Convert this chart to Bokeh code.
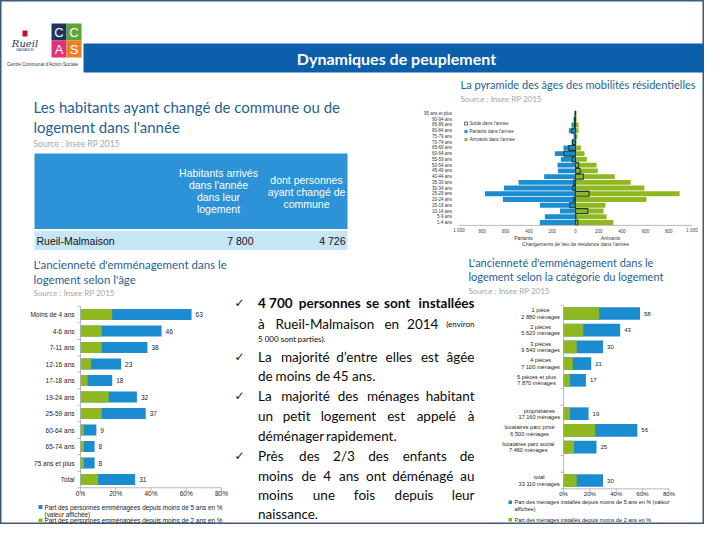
from bokeh.plotting import figure
from bokeh.models import Range1d
from bokeh.core.properties import value
from bokeh.embed import file_html
from bokeh.resources import INLINE

# ---------------- data ----------------
pyr_ages = ["95 ans et plus", "90-94 ans", "85-89 ans", "80-84 ans", "75-79 ans", "70-74 ans",
            "65-69 ans", "60-64 ans", "55-59 ans", "50-54 ans", "45-49 ans", "40-44 ans",
            "35-39 ans", "30-34 ans", "25-29 ans", "20-24 ans", "15-19 ans", "10-14 ans",
            "5-9 ans", "1-4 ans"]
pyr_partants = [10, 17, 34, 57, 17, 34, 103, 177, 126, 154, 151, 269, 489, 614, 777, 623, 306, 134, 263, 306]
pyr_arrivants = [9, 9, 26, 26, 17, 9, 46, 77, 97, 180, 191, 337, 474, 591, 894, 609, 257, 240, 266, 326]
pyr_solde = [-1, -8, -8, -31, 0, -25, -57, -100, -29, 26, 40, 68, -15, -23, 117, -14, -49, 106, 3, 20]
pyr_ticks = [-1000, -800, -600, -400, -200, 0, 200, 400, 600, 800, 1000]
pyr_tick_labels = ["1 000", "800", "600", "400", "200", "0", "200", "400", "600", "800", "1 000"]

age_cats = ["Moins de 4 ans", "4-6 ans", "7-11 ans", "12-16 ans", "17-18 ans", "19-24 ans",
            "25-59 ans", "60-64 ans", "65-74 ans", "75 ans et plus", "Total"]
age_5ans = [63, 46, 38, 23, 18, 32, 37, 9, 8, 8, 31]
age_2ans = [18, 12, 12, 6, 4, 16, 12, 2, 2, 2, 10]

log_l1 = ["1 pièce", "2 pièces", "3 pièces", "4 pièces", "5 pièces et plus", "propriétaires",
          "locataires parc privé", "locataires parc social", "total"]
log_l2 = ["2 880 ménages", "5 620 ménages", "9 540 ménages", "7 100 ménages", "7 870 ménages",
          "17 160 ménages", "6 500 ménages", "7 460 ménages", "33 110 ménages"]
log_group = [0, 0, 0, 0, 0, 1, 1, 1, 2]
log_5ans = [58, 43, 30, 21, 17, 19, 56, 25, 30]
log_2ans = [27, 15, 10, 7, 5, 5, 24, 8, 10]

pct_ticks = [0, 20, 40, 60, 80]
pct_labels = ["0%", "20%", "40%", "60%", "80%"]

table_head = [["Habitants arrivés", "dans l'année", "dans leur", "logement"],
              ["dont personnes", "ayant changé de", "commune"]]
table_row = "Rueil-Malmaison"
table_vals = ["7 800", "4 726"]

# ---------------- style ----------------
BLUE = "#1A8CCF"
GREEN = "#8FB820"
TITLE = "#1F5F94"
GREY = "#A6A6A6"
AX = "#A8A8A8"

p = figure(width=704, height=524, x_range=Range1d(0, 704), y_range=Range1d(524, 0),
           output_backend="svg", toolbar_location=None,
           x_axis_location=None, y_axis_location=None, min_border=0)
p.grid.visible = False
p.outline_line_color = "#3E5C7A"
p.outline_line_width = 2
p.background_fill_color = "white"
p.border_fill_color = "white"


def txt(x, y, s, size, color="#000000", align="left", font="Lato", style="normal",
        baseline="middle", api=None, x_offset=0):
    (api or p).text(x=[x], y=[y], text=[s], text_font=value(font),
                    text_font_size=f"{size}px", text_color=color, text_align=align,
                    text_baseline=baseline, text_font_style=style, x_offset=x_offset)


def box(l, r, t, b, color, line=None, lw=1):
    p.quad(left=[l], right=[r], top=[t], bottom=[b], fill_color=color,
           line_color=line, line_width=lw)


# ---------------- header / logo ----------------
box(22, 27, 30, 36, "#C8102E")
txt(24.5, 42.5, "Rueil", 10, "#1D3461", align="center", font="DejaVu Serif", style="italic")
txt(24.5, 49, "MALMAISON", 2.8, "#1D3461", align="center", font="Liberation Sans")
box(51, 66, 23, 40, "#1D3461")
box(66, 81, 23, 40, "#5AA43A")
box(51, 66, 40, 57, "#E5307A")
box(66, 81, 40, 57, "#EE7F23")
for cx, cy, ch in [(58.5, 31.5, "C"), (73.5, 31.5, "C"), (58.5, 48.5, "A"), (73.5, 48.5, "S")]:
    txt(cx, cy, ch, 13, "white", align="center", font="Liberation Sans")
txt(42, 64, "Centre Communal d'Action Sociale", 4.6, "#333333", align="center", font="Liberation Sans")

box(83, 712, 43, 72, "#0C5FAA")
txt(396, 57.5, "Dynamiques de peuplement", 16, "white", align="center", style="bold")

# ---------------- left top: title + table ----------------
txt(33, 106, "Les habitants ayant changé de commune ou de", 15, TITLE)
txt(33, 126, "logement dans l'année", 15, TITLE)
txt(33, 143, "Source : Insee RP 2015", 8.5, GREY)

box(34, 347, 153, 228.5, "#2C93D8")
box(34, 347, 230.5, 249.5, "#C6E5F7")
col_x = [218, 306]
col_y0 = [172, 179]
for j, lines in enumerate(table_head):
    for k, line in enumerate(lines):
        txt(col_x[j], col_y0[j] + k * 12, line, 10.5, "white", align="center", font="Liberation Sans")
txt(36, 240, table_row, 10.5, "#111111", font="Liberation Sans")
for xr, v in zip([253, 345], table_vals):
    txt(xr, 240, v, 10.5, "#111111", align="right", font="Liberation Sans")

# ---------------- pyramid ----------------
txt(460, 84, "La pyramide des âges des mobilités résidentielles", 11, TITLE)
txt(460, 98, "Source : Insee RP 2015", 8, GREY)

n = len(pyr_ages)
pyr = p.subplot(x_source=Range1d(-1000, 1000), y_source=Range1d(-0.5, n - 0.5),
                x_target=Range1d(458.5, 691.5), y_target=Range1d(110.1, 224.9))
idx = list(range(n))
pyr.hbar(y=idx, left=[-v for v in pyr_partants], right=0, height=0.86,
         fill_color=BLUE, line_color=None)
pyr.hbar(y=idx, left=0, right=pyr_arrivants, height=0.86, fill_color=GREEN, line_color=None)
pyr.hbar(y=idx, left=0, right=pyr_solde, height=0.86, fill_color=None,
         line_color="#1E3A2C", line_width=1.1)
pyr.segment(x0=[-1000], x1=[1000], y0=[n - 0.5], y1=[n - 0.5], line_color=AX, line_width=0.8)
pyr.text(x=pyr_ticks, y=[n + 0.45] * len(pyr_ticks), text=pyr_tick_labels,
         text_font=value("Liberation Sans"), text_font_size="4.5px", text_color="#444444",
         text_align="center", text_baseline="middle")
pyr.text(x=[-1000] * n, y=idx, text=pyr_ages, x_offset=-7,
         text_font=value("Liberation Sans"), text_font_size="4.5px", text_color="#333333",
         text_align="right", text_baseline="middle")

txt(523, 237, "Partants", 5, "#333333", align="center", font="Liberation Sans")
txt(610, 237, "Arrivants", 5, "#333333", align="center", font="Liberation Sans")
txt(575, 243.5, "Changements de lieu de résidence dans l'année", 5, "#333333", align="center",
    font="Liberation Sans")

leg = [("Solde dans l'année", None, "#1E3A2C"), ("Partants dans l'année", BLUE, None),
       ("Arrivants dans l'année", GREEN, None)]
for k, (lab, fc, lc) in enumerate(leg):
    yy = 123 + k * 8
    box(464, 467, yy - 1.5, yy + 1.5, fc, line=lc, lw=0.7)
    txt(469, yy, lab, 4.6, "#333333", font="Liberation Sans")

# ---------------- bottom left chart ----------------
txt(33, 264, "L'ancienneté d'emménagement dans le", 11.5, TITLE)
txt(33, 279, "logement selon l'âge", 11.5, TITLE)
txt(33, 292, "Source : Insee RP 2015", 8, GREY)

na = len(age_cats)
bl = p.subplot(x_source=Range1d(0, 80), y_source=Range1d(-0.5, na - 0.5),
               x_target=Range1d(80, 221), y_target=Range1d(305.75, 487.25))
ia = list(range(na))
bl.hbar(y=ia, left=0, right=age_5ans, height=0.68, fill_color=BLUE, line_color=None)
bl.hbar(y=ia, left=0, right=age_2ans, height=0.68, fill_color=GREEN, line_color=None)
bl.text(x=age_5ans, y=ia, text=[str(v) for v in age_5ans], x_offset=4,
        text_font=value("Liberation Sans"), text_font_size="6.5px", text_color="#222222",
        text_baseline="middle")
bl.text(x=[0] * na, y=ia, text=age_cats, x_offset=-6,
        text_font=value("Liberation Sans"), text_font_size="6.5px", text_color="#222222",
        text_align="right", text_baseline="middle")
bl.segment(x0=[0], x1=[0], y0=[-0.5], y1=[na - 0.5], line_color=AX, line_width=0.8)
bl.segment(x0=[0], x1=[80], y0=[na - 0.5], y1=[na - 0.5], line_color=AX, line_width=0.8)
bl.segment(x0=[-1.8] * (na + 1), x1=[0] * (na + 1), y0=[k - 0.5 for k in range(na + 1)],
           y1=[k - 0.5 for k in range(na + 1)], line_color=AX, line_width=0.8)
bl.segment(x0=pct_ticks, x1=pct_ticks, y0=[na - 0.5] * 5, y1=[na - 0.32] * 5,
           line_color=AX, line_width=0.8)
bl.text(x=pct_ticks, y=[na - 0.15] * 5, text=pct_labels, text_font=value("Liberation Sans"),
        text_font_size="6.5px", text_color="#222222", text_align="center", text_baseline="middle")

box(38, 42, 504.5, 508.5, BLUE)
txt(44, 506.5, "Part des personnes emménagées depuis moins de 5 ans en %", 6.4, "#222222",
    font="Liberation Sans")
txt(44, 513.5, "(valeur affichée)", 6.4, "#222222", font="Liberation Sans")
box(38, 42, 518, 522, GREEN)
txt(44, 520, "Part des personnes emménagées depuis moins de 2 ans en %", 6.4, "#222222",
    font="Liberation Sans")

# ---------------- bullets ----------------
NARROW = set("iljIf.,;:'’!|()/rt")
WIDE = set("mwMW")


def est_w(word, size, style):
    w = 0.0
    for ch in word:
        if ch in NARROW:
            w += 0.29
        elif ch in WIDE:
            w += 0.84
        elif ch.isupper():
            w += 0.64
        elif ch.isdigit():
            w += 0.58
        elif ch == "\u00a0":
            w += 0.26
        else:
            w += 0.52
    f = 1.04 if style == "bold" else 1.0
    return w * size * f


def line_out(y, segs, justify, x0=257.5, x1=474):
    words = []
    for t, s, st in segs:
        for w in t.split(" "):
            words.append((w, s, st))
    widths = [est_w(w, s, st) for w, s, st in words]
    if justify and len(words) > 1:
        gap = (x1 - x0 - sum(widths)) / (len(words) - 1)
    else:
        gap = 0.26 * words[0][1]
    x = x0
    for i, ((w, s, st), wd) in enumerate(zip(words, widths)):
        if i == 0 or not justify:
            txt(x, y, w, s, "#0A0A0A", align="left", font="Lato", style=st)
        elif i == len(words) - 1:
            txt(x1, y, w, s, "#0A0A0A", align="right", font="Lato", style=st)
        else:
            txt(x + wd / 2, y, w, s, "#0A0A0A", align="center", font="Lato", style=st)
        x += wd + gap


B = 13.5
bullet_lines = [
    (302.5, [("4\u00a0700 personnes se sont installées", B, "bold")], True, True),
    (323, [("à Rueil-Malmaison en 2014", B, "normal"), ("(environ", 8, "normal")], True, False),
    (338, [("5\u00a0000 sont parties).", 8, "normal")], False, False),
    (356, [("La majorité d’entre elles est âgée", B, "normal")], True, True),
    (375.5, [("de moins de 45 ans.", B, "normal")], False, False),
    (395, [("La majorité des ménages habitant", B, "normal")], True, True),
    (415, [("un petit logement est appelé à", B, "normal")], True, False),
    (435, [("déménager rapidement.", B, "normal")], False, False),
    (455.5, [("Près des 2/3 des enfants de", B, "normal")], True, True),
    (475, [("moins de 4 ans ont déménagé au", B, "normal")], True, False),
    (494.5, [("moins une fois depuis leur", B, "normal")], True, False),
    (513.5, [("naissance.", B, "normal")], False, False),
]
for y, segs, just, chk in bullet_lines:
    if chk:
        txt(239, y, "✓", 12, "#111111", align="center", font="DejaVu Sans")
    line_out(y, segs, just)

# ---------------- bottom right chart ----------------
txt(468, 262, "L'ancienneté d'emménagement dans le", 11, TITLE)
txt(468, 276, "logement selon la catégorie du logement", 11, TITLE)
txt(468, 290, "Source : Insee RP 2015", 8, GREY)

nl = len(log_l1)
pos = [i + g for i, g in enumerate(log_group)]
nslots = pos[-1] + 1
br = p.subplot(x_source=Range1d(0, 80), y_source=Range1d(-0.5, nslots - 0.5),
               x_target=Range1d(563, 668.5), y_target=Range1d(304.65, 488.35))
br.hbar(y=pos, left=0, right=log_5ans, height=0.76, fill_color=BLUE, line_color=None)
br.hbar(y=pos, left=0, right=log_2ans, height=0.76, fill_color=GREEN, line_color=None)
br.text(x=log_5ans, y=pos, text=[str(v) for v in log_5ans], x_offset=4,
        text_font=value("Liberation Sans"), text_font_size="6px", text_color="#222222",
        text_baseline="middle")
for k in range(nl):
    wmax = max(len(log_l1[k]), len(log_l2[k])) * 2.75
    for dy, lab in [(-0.19, log_l1[k]), (0.19, log_l2[k])]:
        br.text(x=[0], y=[pos[k] + dy], text=[lab], x_offset=-(5 + wmax / 2),
                text_font=value("Liberation Sans"), text_font_size="5.6px",
                text_color="#222222", text_align="center", text_baseline="middle")
br.segment(x0=[0], x1=[0], y0=[-0.5], y1=[nslots - 0.5], line_color=AX, line_width=0.8)
br.segment(x0=[0], x1=[80], y0=[nslots - 0.5], y1=[nslots - 0.5], line_color=AX, line_width=0.8)
bnds = [-0.5, 4.5, 5.5, 8.5, 9.5, 10.5]
br.segment(x0=[-2.2] * len(bnds), x1=[0] * len(bnds), y0=bnds, y1=bnds, line_color=AX,
           line_width=0.8)
br.segment(x0=pct_ticks, x1=pct_ticks, y0=[nslots - 0.5] * 5, y1=[nslots - 0.32] * 5,
           line_color=AX, line_width=0.8)
br.text(x=pct_ticks, y=[nslots - 0.2] * 5, text=pct_labels, text_font=value("Liberation Sans"),
        text_font_size="6px", text_color="#222222", text_align="center", text_baseline="middle")

box(508, 511.5, 500, 503.5, BLUE)
txt(514, 501.5, "Part des ménages installés depuis moins de 5 ans en % (valeur", 5.5, "#222222",
    font="Liberation Sans")
txt(514, 508, "affichée)", 5.5, "#222222", font="Liberation Sans")
box(508, 511.5, 517.5, 521, GREEN)
txt(514, 519, "Part des ménages installés depuis moins de 2 ans en %", 5.5, "#222222",
    font="Liberation Sans")

open("out.html", "w").write(file_html(p, INLINE))
